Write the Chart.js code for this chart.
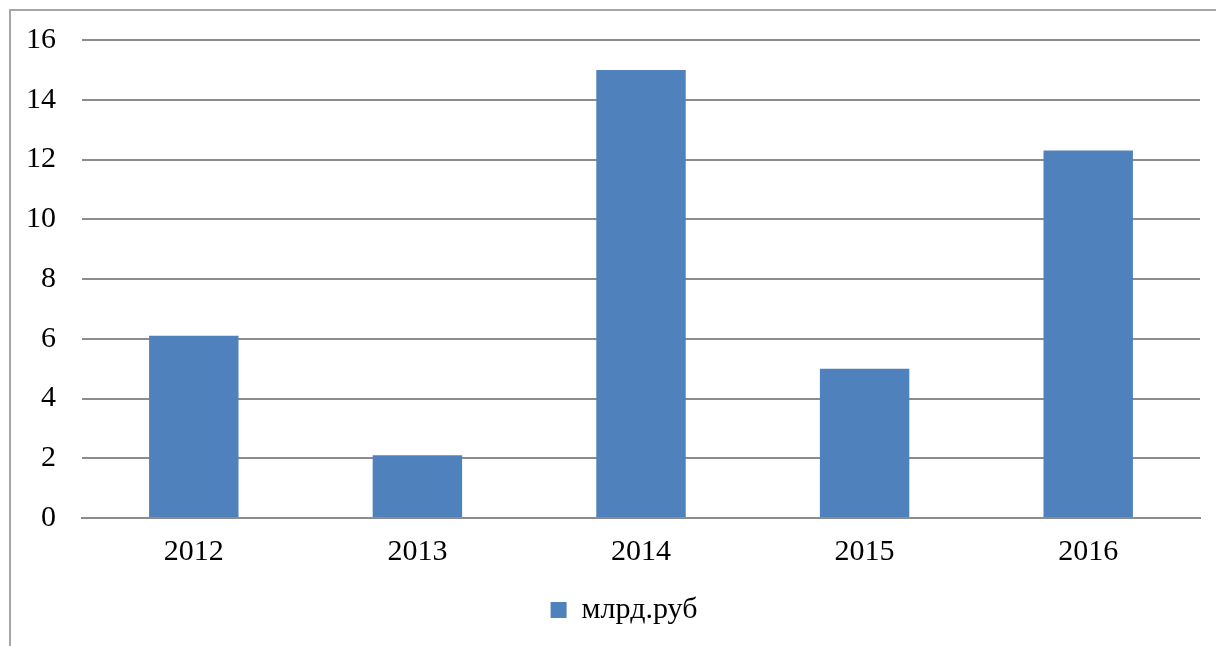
<!DOCTYPE html>
<html>
<head>
<meta charset="utf-8">
<script src="https://cdn.jsdelivr.net/npm/chart.js@4"></script>
<style>
  body { margin: 0; background: #fff; }
  #wrap { position: relative; width: 1216px; height: 646px; }
  #frame { position: absolute; left: 9px; top: 9px; right: -5px; bottom: -5px;
           border-top: 2px solid #a6a6a6; border-left: 2px solid #a6a6a6; }
  canvas { position: absolute; left: 0; top: 0; }
</style>
</head>
<body>
<div id="wrap">
  <div id="frame"></div>
  <canvas id="myChart" width="1216" height="646"></canvas>
</div>
<script>
const years = ["2012", "2013", "2014", "2015", "2016"];
const values = [6.1, 2.1, 15, 5, 12.3];
const seriesName = "млрд.руб";

Chart.defaults.font.family = "'Liberation Serif', 'Times New Roman', serif";
Chart.defaults.font.size = 30;
Chart.defaults.color = "#000";

// nudge the legend a bit to the right, like in the original
const legendShift = {
    id: "legendShift",
    afterLayout(chart) {
        chart.legend.left += 24;
        chart.legend.right += 24;
    }
};

let chart = new Chart("myChart", {
    type: "bar",
    data: {
        labels: years,
        datasets: [{
            label: seriesName,
            data: values,
            backgroundColor: "#4f81bd",
            barPercentage: 0.4,
            categoryPercentage: 1
        }]
    },
    options: {
        responsive: false,
        animation: false,
        layout: { padding: { top: 40, right: 16, left: 0, bottom: 11 } },
        plugins: {
            tooltip: { enabled: false },
            legend: {
                position: "bottom",
                labels: { boxWidth: 16, boxHeight: 16, padding: 10, font: { size: 30 } }
            }
        },
        scales: {
            x: {
                afterFit: (scale) => { scale.height = 67; },
                grid: { display: false, drawTicks: false },
                border: { display: true, color: "#8c8c8c", width: 2 },
                ticks: { padding: 16 }
            },
            y: {
                min: 0, max: 16,
                afterFit: (scale) => {
                    scale.width = 82;
                    scale.paddingTop = 0;
                    scale.paddingBottom = 0;
                },
                grid: { color: "#8c8c8c", lineWidth: 2, drawTicks: false },
                border: { display: false },
                ticks: { stepSize: 2, padding: 26 }
            }
        }
    },
    plugins: [legendShift]
});
</script>
</body>
</html>
